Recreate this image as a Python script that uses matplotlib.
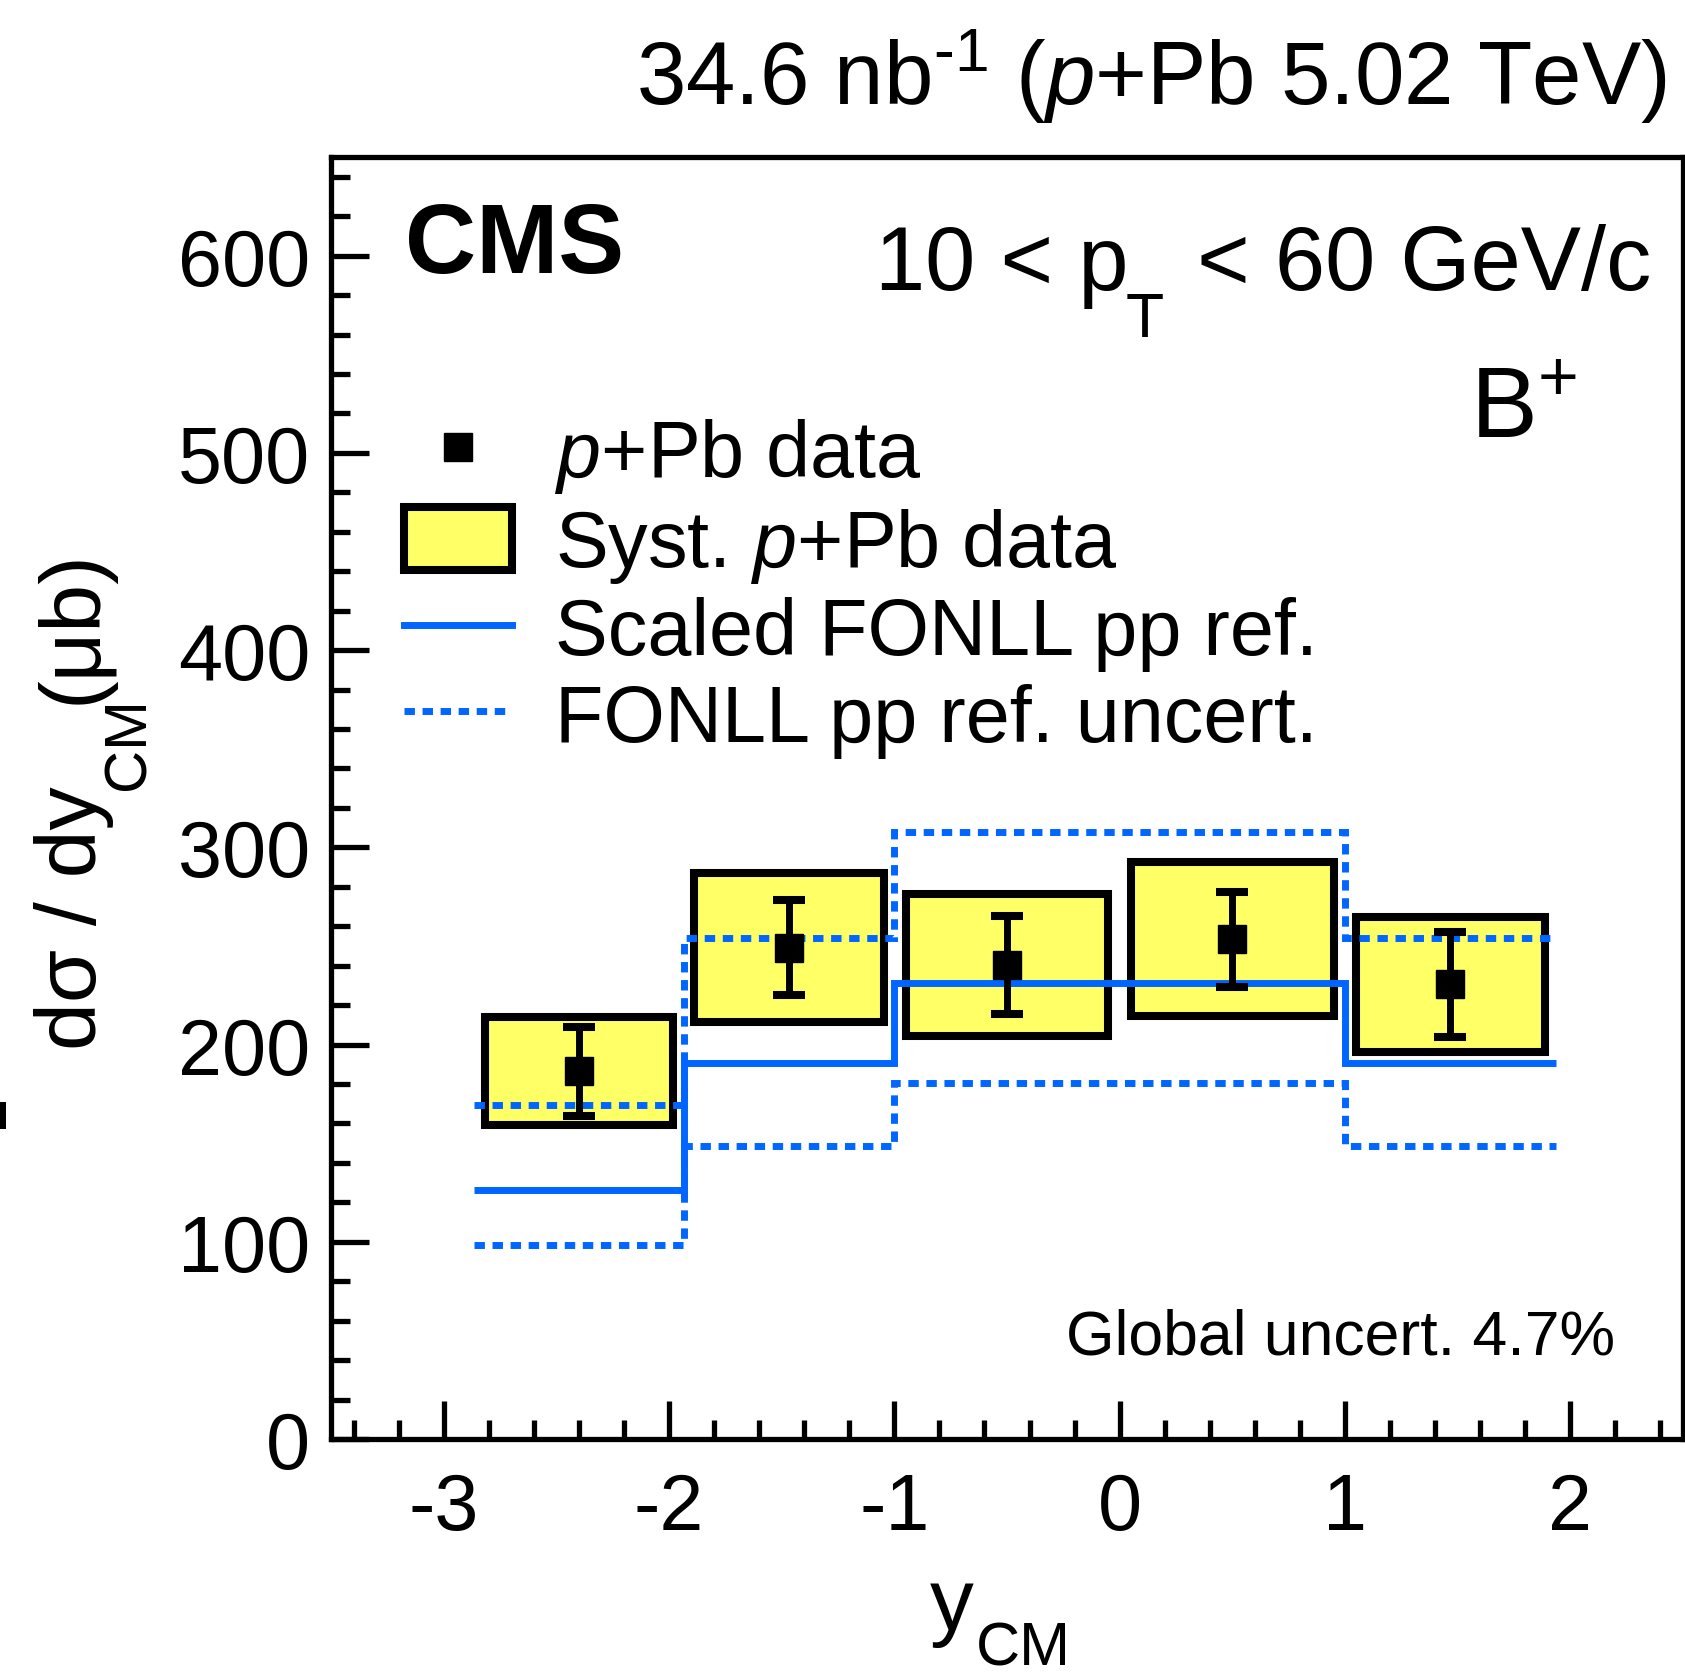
import matplotlib

matplotlib.use("Agg")
import matplotlib.pyplot as plt
import numpy as np
from matplotlib.lines import Line2D
from matplotlib.patches import Patch, Rectangle
from matplotlib.ticker import MultipleLocator

# B+ in p+Pb, 10 < pT < 60 GeV/c, dsigma/dy_CM in microbarn
bin_edges = [-2.865, -1.935, -1.0, 0.0, 1.0, 1.935]
xsec = [186.4, 249.2, 240.3, 253.3, 230.6]
stat = [22.6, 24.2, 24.7, 24.0, 26.7]
syst = [27.4, 37.6, 35.9, 39.0, 34.2]

# scaled FONLL pp reference
fonll_edges = [-2.865, -1.935, -1.0, 1.0, 1.935]
fonll_central = [126.4, 190.4, 231.0, 190.4]
fonll_high = [169.2, 254.2, 307.8, 254.2]
fonll_low = [98.5, 148.7, 180.7, 148.7]

YELLOW = "#ffff66"
BLUE = "#0066ff"
DOTS = (0, (1.5, 1.1))
W, H = 1685, 1681


def px(x, y):
    # pixel position (from top-left) -> figure fraction
    return x / W, 1 - y / H


plt.rcParams.update({
    "font.family": ["Liberation Sans", "DejaVu Sans"],
    "mathtext.fontset": "custom",
    "mathtext.rm": "Liberation Sans",
    "mathtext.it": "Liberation Sans:italic",
    "mathtext.bf": "Liberation Sans:bold",
    "axes.unicode_minus": False,
    "axes.linewidth": 3.8,
})

fig = plt.figure(figsize=(W / 100, H / 100), dpi=100)
ax = fig.add_axes([331 / W, 1 - 1440 / H, 1352 / W, 1282 / H])

edges = np.array(bin_edges)
centers = 0.5 * (edges[1:] + edges[:-1])
widths = 0.9 * np.diff(edges)
xsec = np.array(xsec)
syst = np.array(syst)

# systematic boxes
ax.bar(centers, 2 * syst, bottom=xsec - syst, width=widths, color=YELLOW,
       edgecolor="black", linewidth=5.8, zorder=2)

# FONLL reference
ax.stairs(fonll_central, fonll_edges, baseline=None, color=BLUE, lw=5, zorder=3)
ax.stairs(fonll_high, fonll_edges, baseline=None, color=BLUE, lw=5, ls=DOTS, zorder=3)
ax.stairs(fonll_low, fonll_edges, baseline=None, color=BLUE, lw=5, ls=DOTS, zorder=3)

# data points
ax.errorbar(centers, xsec, yerr=stat, fmt="s", color="black", ms=20,
            elinewidth=5, capsize=11.5, capthick=5.8, zorder=4)

ax.set_xlim(-3.5, 2.5)
ax.set_ylim(0, 650)
ax.xaxis.set_major_locator(MultipleLocator(1))
ax.xaxis.set_minor_locator(MultipleLocator(0.2))
ax.yaxis.set_major_locator(MultipleLocator(100))
ax.yaxis.set_minor_locator(MultipleLocator(20))
ax.tick_params(which="both", direction="in", width=3.8, labelsize=57,
               top=False, right=False)
ax.tick_params(which="major", length=27.5)
ax.tick_params(which="minor", length=13.7)
ax.tick_params(axis="x", pad=23)
ax.tick_params(axis="y", pad=15)

# y axis title, ROOT style with a deep subscript
ykw = dict(rotation=90, rotation_mode="anchor", ha="left", va="baseline")
fig.text(*px(96, 1050), "dσ / dy", fontsize=62, **ykw)
fig.text(*px(144, 790), "CM", fontsize=43, **ykw)
fig.text(*px(96, 704), "(μb)", fontsize=62, **ykw)

# x axis title
fig.text(*px(930, 1630), "y", ha="left", va="baseline", fontsize=63)
fig.text(*px(976, 1666), "CM", ha="left", va="baseline", fontsize=44)

fig.text(*px(1667, 105), r"34.6 nb$^{\text{-1}}$ ($\mathit{p}$+Pb 5.02 TeV)",
         ha="right", va="baseline", fontsize=64)
fig.text(*px(405, 273), "CMS", fontweight="bold",
         ha="left", va="baseline", fontsize=71)
fig.text(*px(1128, 290), "10 < p", ha="right", va="baseline", fontsize=65)
fig.text(*px(1126, 337), "T", ha="left", va="baseline", fontsize=45)
fig.text(*px(1651, 290), "< 60 GeV/c", ha="right", va="baseline", fontsize=65)
fig.text(*px(1470, 438), r"B$^{+}$", ha="left", va="baseline", fontsize=72)
fig.text(*px(1066, 1355), "Global uncert. 4.7%",
         ha="left", va="baseline", fontsize=45)

# small stray mark at the left edge of the original canvas
fig.add_artist(Rectangle(px(0, 1130), 6 / W, 27 / H,
                         transform=fig.transFigure, color="black", lw=0))

handles = [
    Line2D([], [], ls="none", marker="s", ms=20, color="black"),
    Patch(facecolor=YELLOW, edgecolor="black", lw=5.8),
    Line2D([], [], color=BLUE, lw=5),
    Line2D([], [], color=BLUE, lw=5, ls=DOTS),
]
labels = [
    r"$\mathit{p}$+Pb data",
    r"Syst. $\mathit{p}$+Pb data",
    "Scaled FONLL pp ref.",
    "FONLL pp ref. uncert.",
]
ax.legend(handles, labels, loc="upper left", bbox_to_anchor=px(404, 417),
          bbox_transform=fig.transFigure, frameon=False, fontsize=57,
          handlelength=1.37, handleheight=0.84, handletextpad=0.54,
          labelspacing=0.135, borderpad=0, borderaxespad=0)

fig.savefig("out.png", dpi=100)
plt.close(fig)
